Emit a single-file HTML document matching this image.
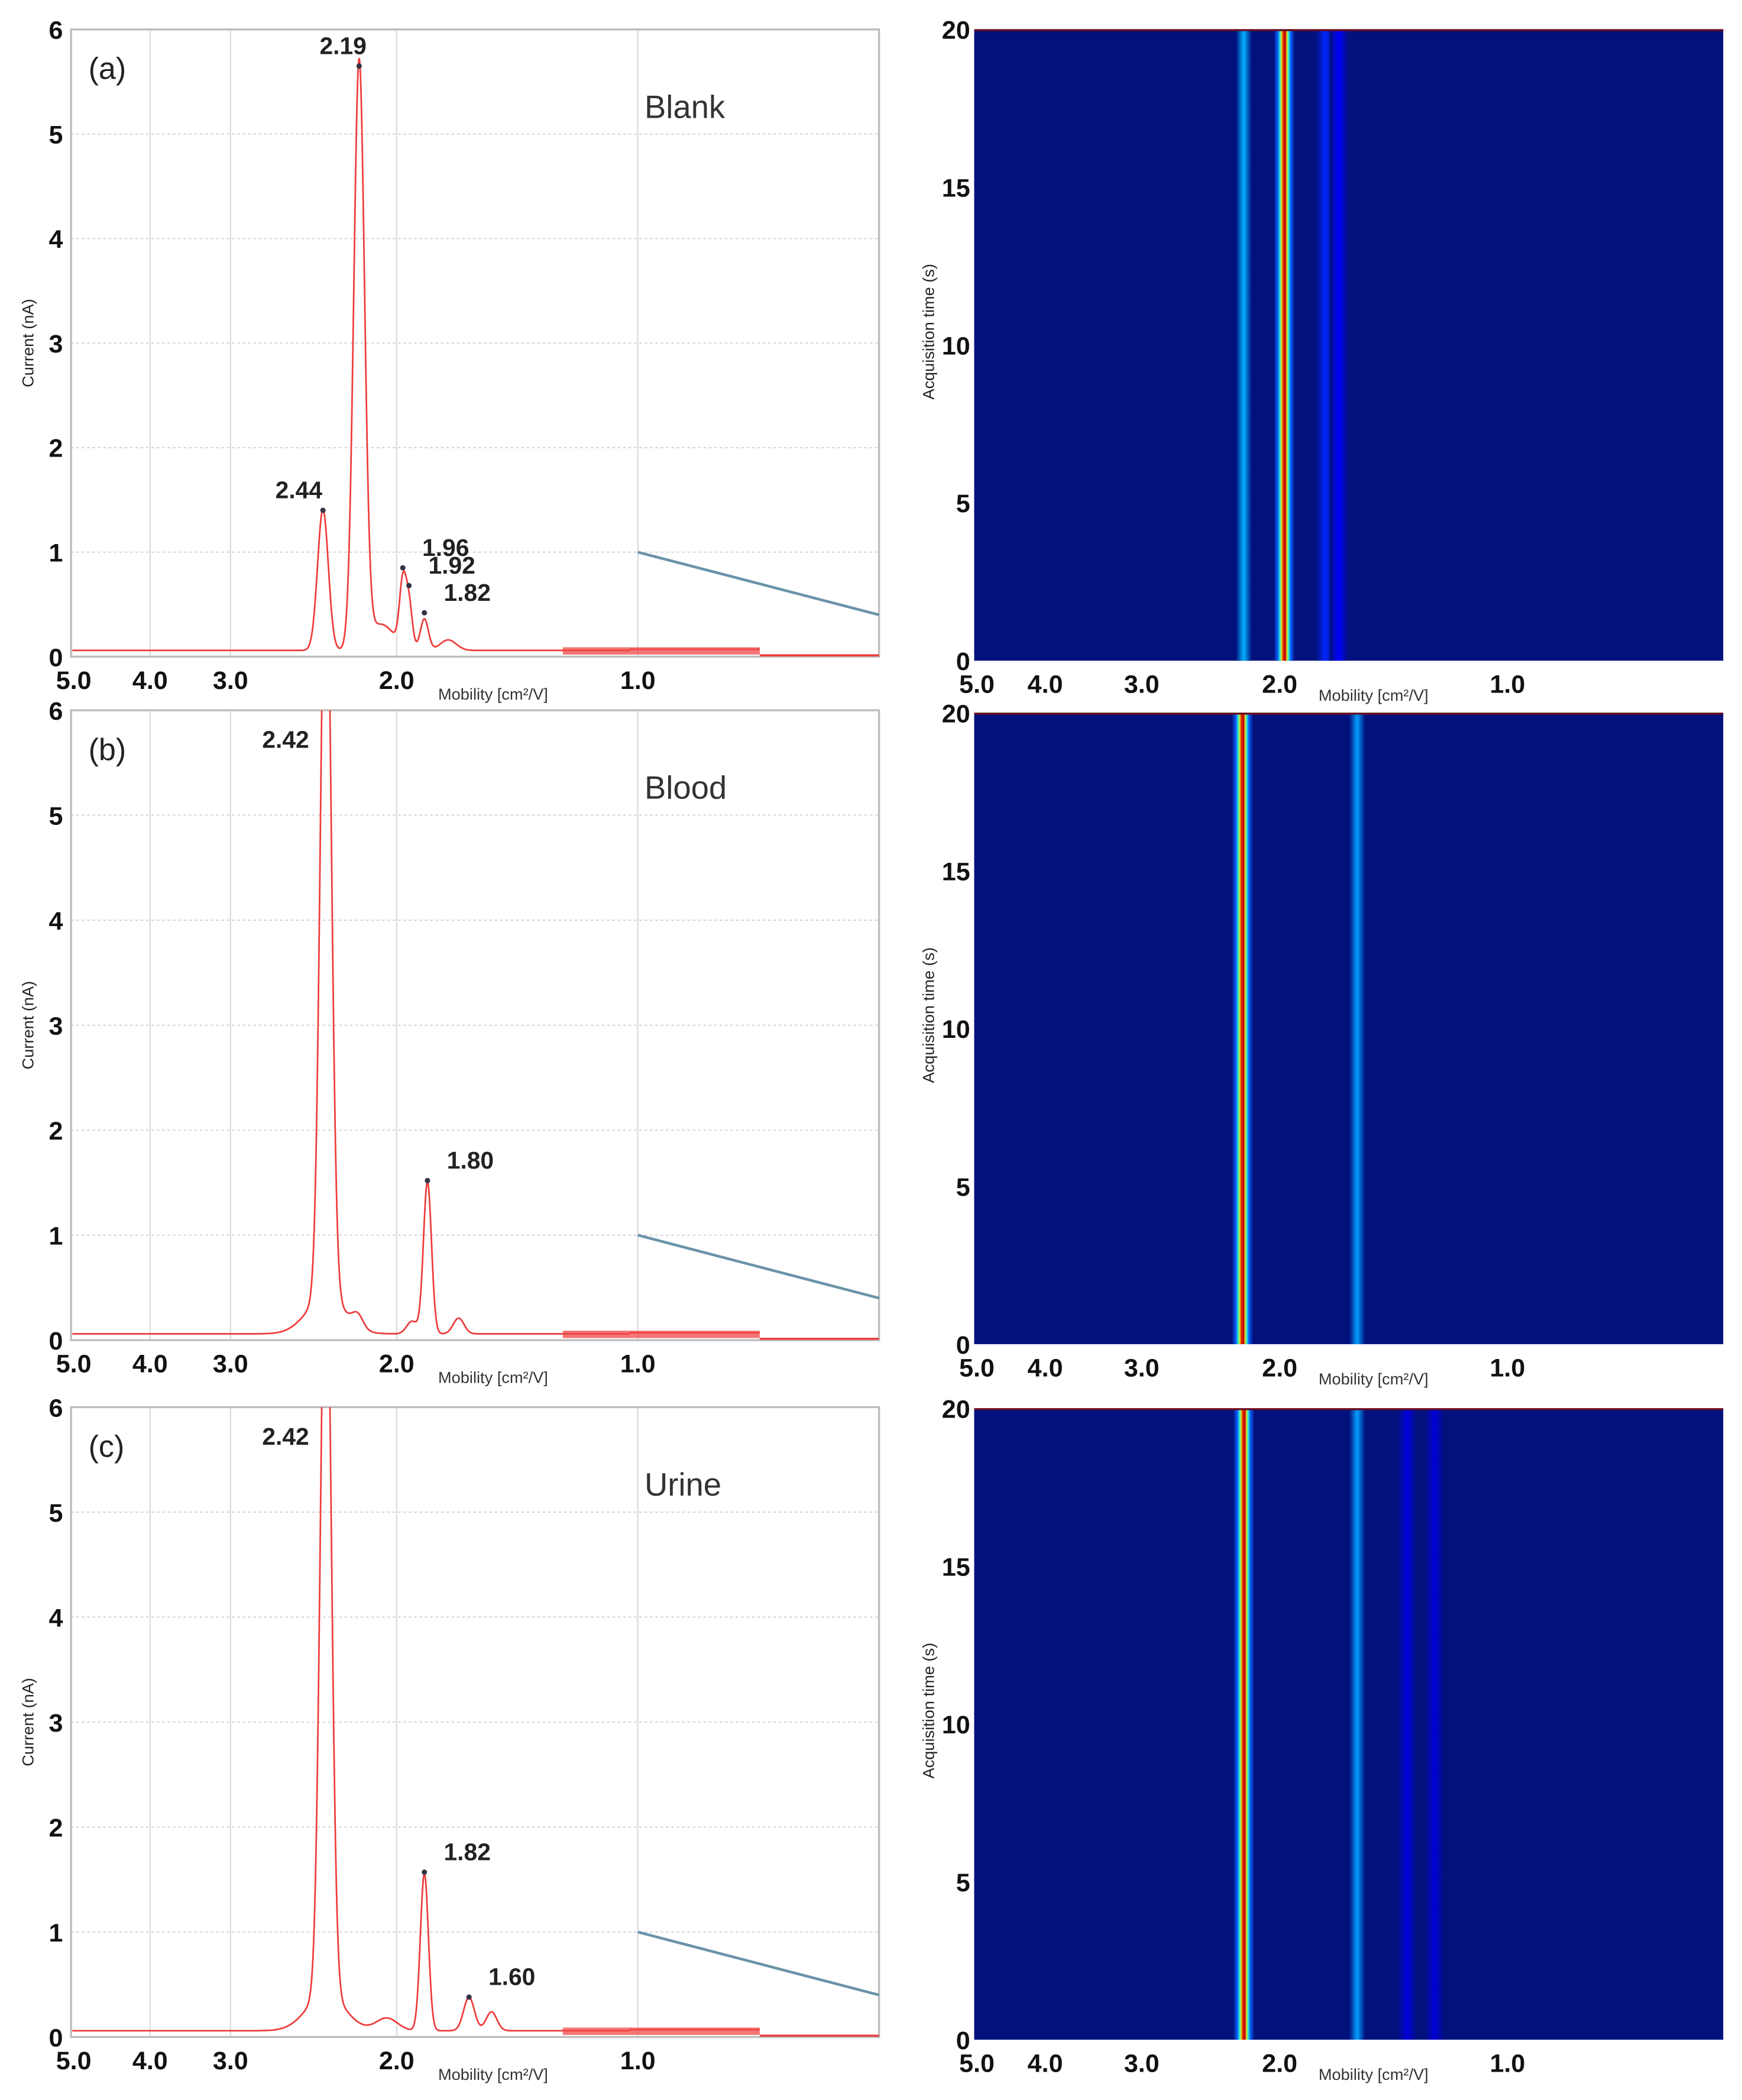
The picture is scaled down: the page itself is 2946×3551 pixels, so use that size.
<!DOCTYPE html>
<html><head><meta charset="utf-8">
<style>
html,body{margin:0;padding:0;background:#fff;}
svg{display:block;}
text{font-family:"Liberation Sans",Arial,sans-serif;}
</style></head>
<body>
<svg id="fig" width="2946" height="3551" viewBox="0 0 1300 1567" preserveAspectRatio="none" xmlns="http://www.w3.org/2000/svg">
<defs></defs>
</svg>
<script>
// ---- spectrum axis calibration (mobility -> tick) ----
const xTickLabels = ["5.0","4.0","3.0","2.0","1.0"];
const xTickValues = [5.0,4.0,3.0,2.0,1.0];
const yTickValues = [0,1,2,3,4,5,6];
const timeTickValues = [0,5,10,15,20];

// ---- panel (a) Blank ----
const peaksA_mob = [2.44,2.19,2.08,1.96,1.92,1.82,1.70];
const peaksA_h   = [1.35,5.6,0.25,0.6,0.42,0.3,0.1];
const peaksA_w   = [4,4,10,2.5,2.5,3,6];
const labelsA    = ["2.44","2.19","1.96","1.92","1.82"];
const labelsA_mob= [2.44,2.19,1.96,1.92,1.82];
const labelsA_h  = [1.4,5.65,0.85,0.68,0.42];
// ---- panel (b) Blood ----
const peaksB_mob = [2.42,2.42,2.20,1.90,1.80,1.65];
const peaksB_h   = [7.5,0.35,0.12,0.12,1.45,0.15];
const peaksB_w   = [4,14,4,4,3,4];
const labelsB    = ["2.42","1.80"];
const labelsB_mob= [2.42,1.80];
const labelsB_h  = [null,1.52];
// ---- panel (c) Urine ----
const peaksC_mob = [2.42,2.42,2.05,1.82,1.60,1.52];
const peaksC_h   = [7.5,0.35,0.12,1.5,0.32,0.18];
const peaksC_w   = [4,14,8,3,4,4];
const labelsC    = ["2.42","1.82","1.60"];
const labelsC_mob= [2.42,1.82,1.60];
const labelsC_h  = [null,1.57,0.38];

// ---- heatmap bands: mobility, intensity(0..1) ----
const bandsA_mob = [2.26,1.98,1.80,1.74];
const bandsA_int = [0.45,1.0,0.2,0.14];
const bandsB_mob = [2.27,1.66];
const bandsB_int = [1.0,0.42];
const bandsC_mob = [2.26,1.66,1.44,1.32];
const bandsC_int = [1.0,0.42,0.08,0.07];

const NS="http://www.w3.org/2000/svg";
const svg=document.getElementById('fig');
const defs=svg.querySelector('defs');
function el(tag,attrs,parent){const e=document.createElementNS(NS,tag);for(const k in attrs)e.setAttribute(k,attrs[k]);(parent||svg).appendChild(e);return e;}

// spectrum piecewise calibration knots (mobility -> px)
const specKnotMob=[5.0,4.0,3.0,2.44,2.19,2.0,1.80,1.60,1.0,0.0];
const specKnotPx =[55,112,172,241,268,296,319,350,476,656];
function specX(m){for(let i=0;i<specKnotMob.length-1;i++){const a=specKnotMob[i],b=specKnotMob[i+1];if(m<=a&&m>=b){return specKnotPx[i]+(a-m)/(a-b)*(specKnotPx[i+1]-specKnotPx[i]);}}return m>5?55:656;}
const heatKnotMob=[5.0,4.0,3.0,2.0,1.0,0.05];
const heatKnotPx =[728,780,852,955,1125,1286];
function heatX(m){for(let i=0;i<heatKnotMob.length-1;i++){const a=heatKnotMob[i],b=heatKnotMob[i+1];if(m<=a&&m>=b){return heatKnotPx[i]+(a-m)/(a-b)*(heatKnotPx[i+1]-heatKnotPx[i]);}}return 1286;}

function jet(v){v=Math.max(0,Math.min(1,v));
  const r=Math.max(0,Math.min(1,1.5-Math.abs(4*v-3))),g=Math.max(0,Math.min(1,1.5-Math.abs(4*v-2))),b=Math.max(0,Math.min(1,1.5-Math.abs(4*v-1)));
  return `rgb(${Math.round(r*255)},${Math.round(g*255)},${Math.round(b*255)})`;}

function spectrum(cfg){
  const {top,bot,tag,name,mob,h,w,labels,lmob,lh}=cfg;
  const L=53,R=656;
  const ys=v=>bot-(bot-top)*v/6;
  const g=el('g',{});
  
  
  yTickValues.forEach(v=>{ if(v>0&&v<6){const l=el('line',{x1:L,x2:R,y1:ys(v),y2:ys(v),stroke:'#d8d8d8','stroke-width':1,'stroke-dasharray':'2,2'},g);
    }});
  xTickValues.forEach(v=>{ if(v<5){const l=el('line',{x1:specX(v),x2:specX(v),y1:top,y2:bot,stroke:'#dcdcdc','stroke-width':1},g);
    }});
  const fr=el('rect',{x:L,y:top,width:R-L,height:bot-top,fill:'none',stroke:'#bdbdbd','stroke-width':1.5},g);
  
  yTickValues.forEach(v=>{const t=el('text',{x:47,y:ys(v)+7,'text-anchor':'end','font-size':19,'font-weight':'bold',fill:'#111'},g);t.textContent=v;
    });
  xTickValues.forEach((v,i)=>{const t=el('text',{x:specX(v),y:bot+24,'text-anchor':'middle','font-size':19,'font-weight':'bold',fill:'#111'},g);t.textContent=xTickLabels[i];
    });
  const xt=el('text',{x:368,y:bot+32,'text-anchor':'middle','font-size':12,fill:'#333'},g);xt.textContent='Mobility [cm²/V]';
  
  const yt=el('text',{x:0,y:0,'text-anchor':'middle','font-size':12,fill:'#222',transform:`translate(25,${(top+bot)/2}) rotate(-90)`},g);yt.textContent='Current (nA)';
  
  const tg=el('text',{x:66,y:top+37,'font-size':23,fill:'#222'},g);tg.textContent='('+tag+')';
  
  const nm=el('text',{x:481,y:top+66,'font-size':24,fill:'#333'},g);nm.textContent=name;
  
  const bl=el('line',{x1:476,y1:ys(1),x2:656,y2:ys(0.4),stroke:'#6a93a8','stroke-width':2},g);
  
  const cp=el('clipPath',{id:'clip'+tag},defs);el('rect',{x:L,y:top,width:R-L,height:bot-top},cp);
  let d='';
  for(let x=L+1;x<=567;x+=0.5){
    let v=0.06+(x<470?0:0.01);
    for(let i=0;i<mob.length;i++){const c=specX(mob[i]);v+=h[i]*Math.exp(-Math.pow((x-c)/w[i],2)/2);}
    d+=(d?'L':'M')+x.toFixed(1)+','+ys(v).toFixed(1);
  }
  const cv=el('path',{d:d,fill:'none',stroke:'#ee3b3b','stroke-width':1.2,'clip-path':`url(#clip${tag})`},g);
  
  const nb=el('rect',{x:420,y:ys(0.09),width:147,height:ys(0.02)-ys(0.09),fill:'#f04848',opacity:0.75},g);
  
  const tl=el('line',{x1:567,x2:656,y1:ys(0)-1,y2:ys(0)-1,stroke:'#ee3b3b','stroke-width':1.5},g);
  
  labels.forEach((s,i)=>{const x=specX(lmob[i]);
    let ty;
    if(lh[i]!==null){const py=ys(lh[i]);
      const dm=el('circle',{cx:x,cy:py,r:2,fill:'#334'},g);
      ty=py-9;}
    else ty=top+28;
    const t=el('text',{x:x+(lh[i]!==null?(x<260?-18:(x>280?32:-12)):-30),y:ty,'text-anchor':'middle','font-size':18,'font-weight':'bold',fill:'#222'},g);
    t.textContent=s;});
}

function heatmap(cfg){
  const {top,bot,tag,mob,inten}=cfg;
  const L=727,R=1286;
  const g=el('g',{});
  
  
  const bg=el('rect',{x:L,y:top,width:R-L,height:bot-top,fill:'#02117c'},g);
  
  mob.forEach((m,i)=>{const c=heatX(m),I=inten[i];
    const hw=I>0.9?8:(I>0.3?6:7);
    const gid='grad'+tag+i;
    const lg=el('linearGradient',{id:gid,x1:0,x2:1,y1:0,y2:0},defs);
    const stops=I>0.9?[[0,'#02117c'],[0.2,'#0a60ff'],[0.3,'#30f0d0'],[0.38,'#e0e020'],[0.44,'#e03000'],[0.56,'#c00000'],[0.62,'#e0e020'],[0.7,'#30f0d0'],[0.8,'#0a60ff'],[1,'#02117c']]
      :[[0,'#02117c'],[0.5,jet(0.05+I*0.55)],[1,'#02117c']];
    stops.forEach(s=>el('stop',{offset:s[0],'stop-color':s[1]},lg));
    const r=el('rect',{x:c-hw,y:top,width:2*hw,height:bot-top,fill:`url(#${gid})`},g);
    
  });
  const tl=el('line',{x1:L,x2:R,y1:top+0.5,y2:top+0.5,stroke:'#6a0a20','stroke-width':1.5},g);
  
  const ys=v=>bot-(bot-top)*v/20;
  timeTickValues.forEach(v=>{const t=el('text',{x:724,y:ys(v)+7,'text-anchor':'end','font-size':19,'font-weight':'bold',fill:'#111'},g);t.textContent=v;
    });
  xTickValues.forEach((v,i)=>{const t=el('text',{x:heatX(v)+(i==0?1:0),y:bot+24,'text-anchor':'middle','font-size':19,'font-weight':'bold',fill:'#111'},g);t.textContent=xTickLabels[i];
    });
  const xt=el('text',{x:1025,y:bot+30,'text-anchor':'middle','font-size':12,fill:'#333'},g);xt.textContent='Mobility [cm²/V]';
  
  const yt=el('text',{x:0,y:0,'text-anchor':'middle','font-size':12,fill:'#222',transform:`translate(697,${(top+bot)/2-10}) rotate(-90)`},g);yt.textContent='Acquisition time (s)';
  
}

spectrum({top:22,bot:490,tag:'a',name:'Blank',mob:peaksA_mob,h:peaksA_h,w:peaksA_w,labels:labelsA,lmob:labelsA_mob,lh:labelsA_h});
spectrum({top:530,bot:1000,tag:'b',name:'Blood',mob:peaksB_mob,h:peaksB_h,w:peaksB_w,labels:labelsB,lmob:labelsB_mob,lh:labelsB_h});
spectrum({top:1050,bot:1520,tag:'c',name:'Urine',mob:peaksC_mob,h:peaksC_h,w:peaksC_w,labels:labelsC,lmob:labelsC_mob,lh:labelsC_h});
heatmap({top:22,bot:493,tag:'a',mob:bandsA_mob,inten:bandsA_int});
heatmap({top:532,bot:1003,tag:'b',mob:bandsB_mob,inten:bandsB_int});
heatmap({top:1051,bot:1522,tag:'c',mob:bandsC_mob,inten:bandsC_int});
</script>
</body></html>
